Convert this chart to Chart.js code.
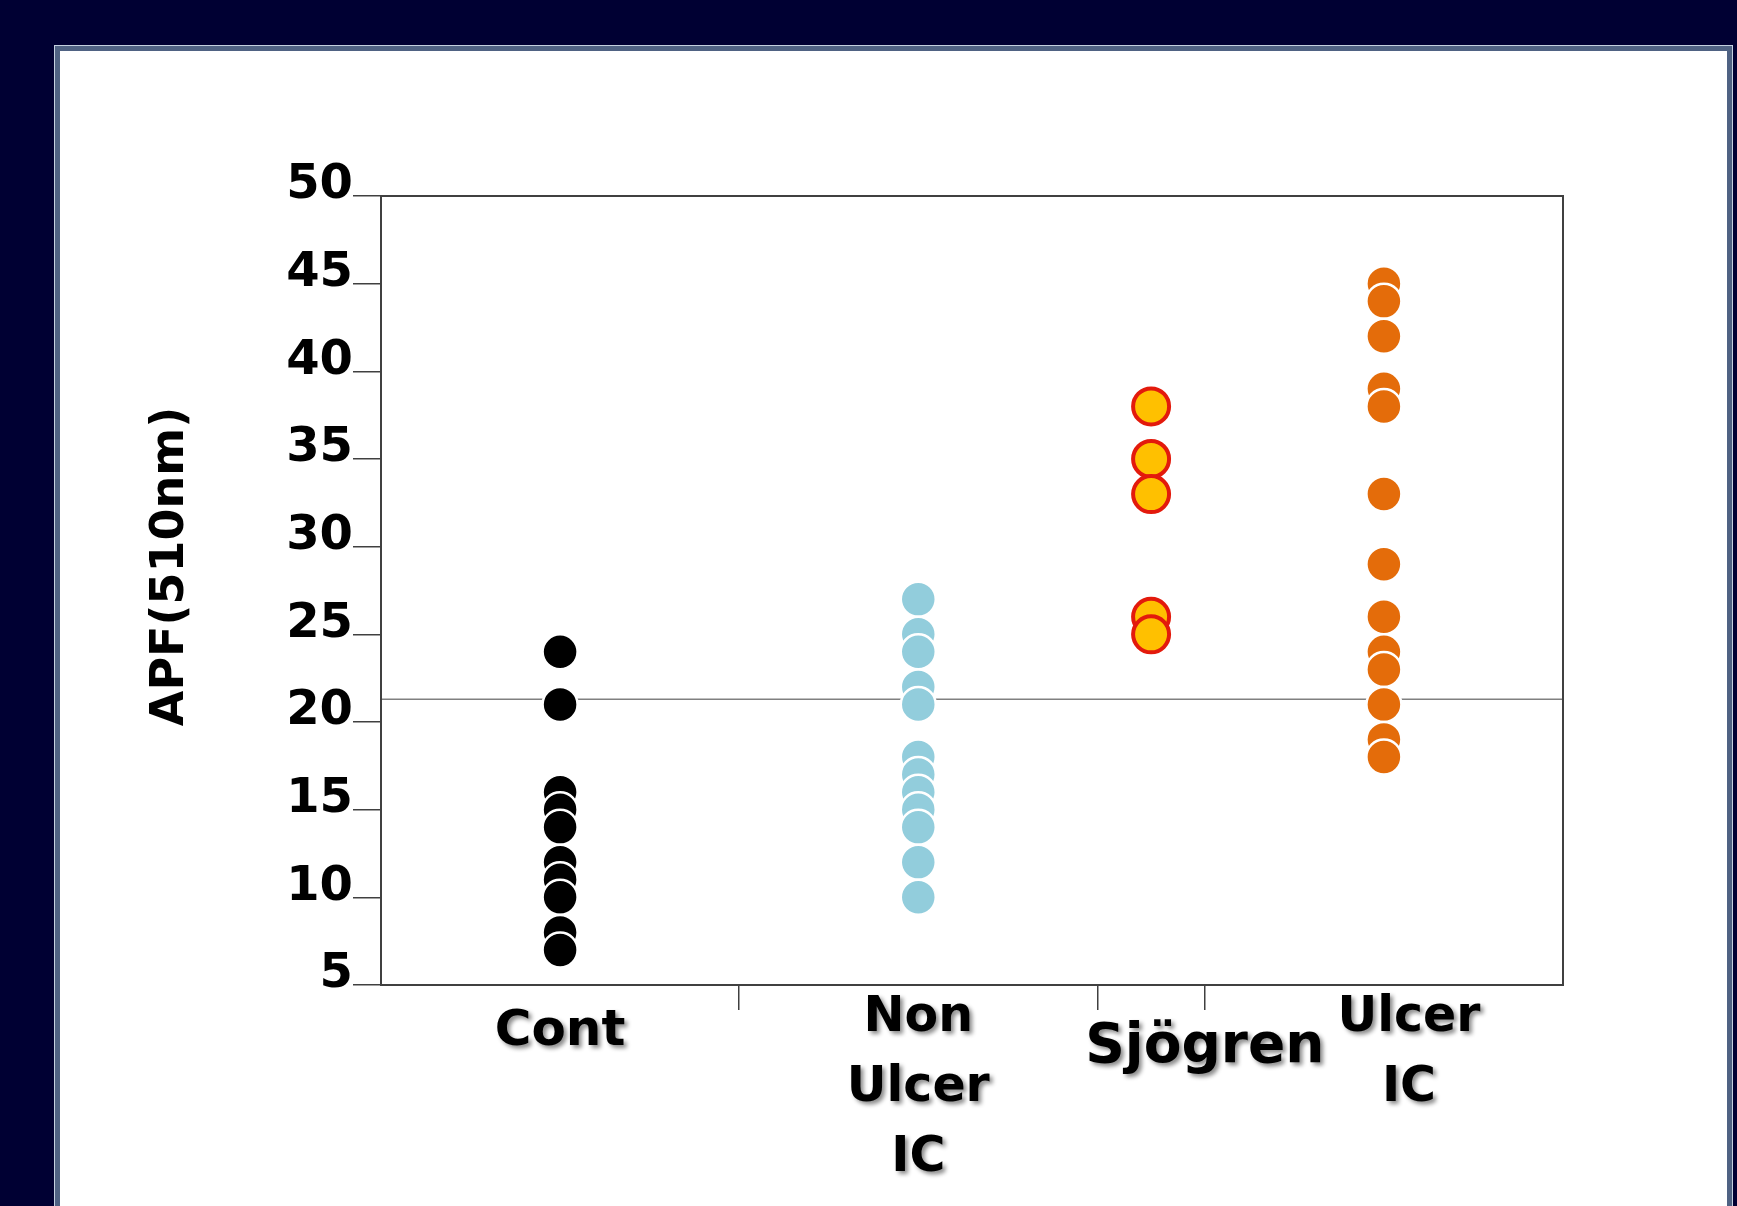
<!DOCTYPE html>
<html>
<head>
<meta charset="utf-8">
<script src="https://cdn.jsdelivr.net/npm/chart.js@4/dist/chart.umd.min.js"></script>
<style>
    html, body { margin: 0; padding: 0; background: #000033; overflow: hidden; }
    #panel {
        position: absolute;
        left: 55px;
        top: 46px;
        width: 1677px;
        height: 1200px;
        box-sizing: border-box;
        background: #ffffff;
        border: 5px solid #4f6283;
        box-shadow: 0 0 0 1px #c4d0e0;
    }
    #chart { position: absolute; left: 0; top: 0; }
</style>
</head>
<body>
<div id="panel"></div>
<canvas id="chart" width="1737" height="1206"></canvas>
<script>
// categories, where their dots sit and where their labels sit (in slot units)
const groupLabels = ['Cont', ['Non', 'Ulcer', 'IC'], 'Sjögren', ['Ulcer', 'IC']];
const groupX = [0.5, 1.5, 2.15, 2.8];
const labelX = [0.5, 1.5, 2.3, 2.87];
const dividerX = [1, 2, 2.3];
const xMax = 3.3;

// APF (510nm) per subject, highest first so lower dots overlap upper ones
const contValues = [24, 21, 16, 15, 14, 12, 11, 10, 8, 7];
const nonUlcerValues = [27, 25, 24, 22, 21, 18, 17, 16, 15, 14, 12, 10];
const sjogrenValues = [38, 35, 33, 26, 25];
const ulcerValues = [45, 44, 42, 39, 38, 33, 29, 26, 24, 23, 21, 19, 18];

// cut-off line
const cutoff = 21.3;

// y axis
const yMin = 5;
const yMax = 50;
const yStep = 5;

// label styling per category (size, line height)
const labelSizes = [50, 49, 55, 49];
const labelLineHeights = ['98px', '70px', '129px', '70px'];

const FONT = 'DejaVu Sans';

function points(values, i) {
    return values.map((v) => ({ x: groupX[i], y: v }));
}

// grey drop shadow under the category labels
function labelShadow() {
    return {
        id: 'labelShadow',
        afterDatasetsDraw(chart) {
            const ctx = chart.ctx;
            ctx.save();
            ctx.shadowColor = 'rgba(0,0,0,0.45)';
            ctx.shadowOffsetX = 3;
            ctx.shadowOffsetY = 3;
            ctx.shadowBlur = 4;
        },
        afterDraw(chart) {
            chart.ctx.restore();
        },
    };
}

// box round the plot area
function drawFrame() {
    return {
        id: 'drawFrame',
        afterDraw(chart) {
            const { ctx, chartArea: a } = chart;
            ctx.save();
            ctx.strokeStyle = '#404040';
            ctx.lineWidth = 2;
            ctx.strokeRect(a.left, a.top, a.right - a.left, a.bottom - a.top);
            ctx.restore();
        },
    };
}

const dotBase = {
    borderColor: '#ffffff',
    borderWidth: 2.5,
    pointRadius: 17.5,
    pointHoverRadius: 17.5,
};

const datasets = [
    { ...dotBase, label: 'Cont', data: points(contValues, 0), backgroundColor: '#000000' },
    { ...dotBase, label: 'Non Ulcer IC', data: points(nonUlcerValues, 1), backgroundColor: '#92CDDC' },
    {
        label: 'Sjögren',
        data: points(sjogrenValues, 2),
        backgroundColor: '#FFC000',
        borderColor: '#E31A0C',
        borderWidth: 4,
        pointRadius: 18,
        pointHoverRadius: 18,
    },
    { ...dotBase, label: 'Ulcer IC', data: points(ulcerValues, 3), backgroundColor: '#E46C0A' },
    {
        label: 'cut-off',
        data: [{ x: 0, y: cutoff }, { x: xMax, y: cutoff }],
        showLine: true,
        borderColor: '#808080',
        borderWidth: 1.5,
        pointRadius: 0,
        order: 10,
    },
];

const labelTickCount = labelX.length;

const options = {
    animation: false,
    responsive: false,
    events: [],
    layout: { padding: { left: 120, top: 196, right: 174, bottom: 0 } },
    plugins: {
        legend: { display: false },
        tooltip: { enabled: false },
    },
    scales: {
        x: {
            type: 'linear',
            position: 'bottom',
            min: 0,
            max: xMax,
            afterBuildTicks(scale) {
                scale.ticks = labelX.concat(dividerX).map((v) => ({ value: v }));
            },
            // labels are clipped to the axis box, so it runs to the canvas foot
            afterFit(scale) {
                scale.height = 221;
            },
            border: { display: false },
            grid: {
                drawOnChartArea: false,
                tickLength: 25,
                lineWidth: 1.5,
                color: (ctx) => (ctx.index >= labelTickCount ? '#404040' : 'rgba(0,0,0,0)'),
            },
            ticks: {
                autoSkip: false,
                maxRotation: 0,
                minRotation: 0,
                padding: -27,
                z: 1,
                color: '#000000',
                callback: (value, index) => (index < labelTickCount ? groupLabels[index] : ''),
                font: (ctx) => {
                    const i = ctx.index < labelTickCount ? ctx.index : 1;
                    return {
                        family: FONT,
                        weight: 'bold',
                        size: labelSizes[i],
                        lineHeight: labelLineHeights[i],
                    };
                },
            },
        },
        y: {
            min: yMin,
            max: yMax,
            afterFit(scale) {
                scale.width = 261;
            },
            border: { display: false },
            grid: {
                drawOnChartArea: false,
                tickLength: 28,
                lineWidth: 1.5,
                color: '#404040',
            },
            ticks: {
                stepSize: yStep,
                padding: 0,
                color: '#000000',
                // second empty line lifts the number above its tick
                callback: (value) => [String(value), ''],
                font: { family: FONT, weight: 'bold', size: 48, lineHeight: '20px' },
            },
            title: {
                display: true,
                text: '   APF(510nm)',
                color: '#000000',
                padding: { top: 23, bottom: 0 },
                font: { family: FONT, weight: 'bold', size: 46, lineHeight: 1.2 },
            },
        },
    },
};

const chart = new Chart(document.getElementById('chart'), {
    type: 'scatter',
    data: { datasets },
    options,
    plugins: [labelShadow(), drawFrame()],
});
</script>
</body>
</html>
